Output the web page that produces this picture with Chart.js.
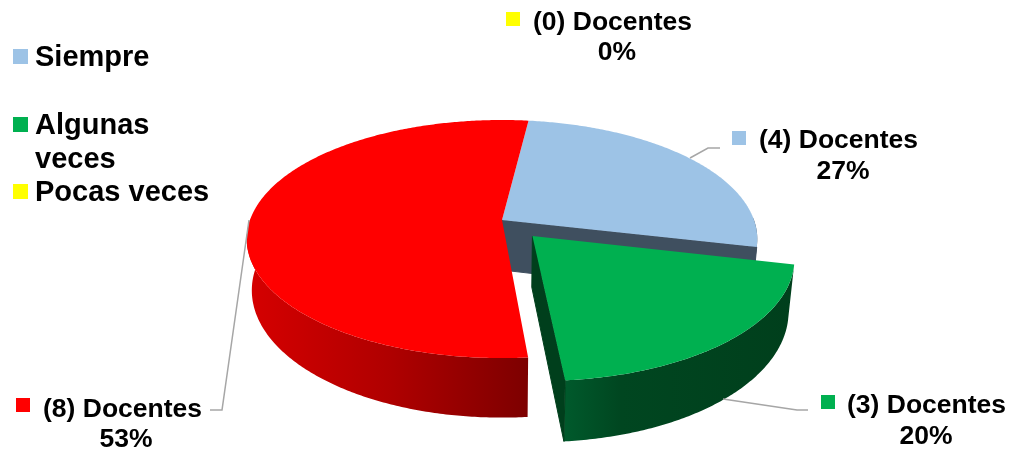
<!DOCTYPE html>
<html>
<head>
<meta charset="utf-8">
<title>Docentes</title>
<script src="https://cdn.jsdelivr.net/npm/chart.js@4/dist/chart.umd.js"></script>
<style>
  html, body { margin: 0; padding: 0; background: #fff; }
  #wrap { width: 1010px; height: 450px; }
</style>
</head>
<body>
<div id="wrap"><canvas id="pie" width="1010" height="450"></canvas></div>
<script>
// values, in slice order (clockwise)
var categories = ['Siempre', 'Algunas veces', 'Pocas veces', ''];
var docentes = [4, 3, 0, 8];
var percents = ['27%', '20%', '0%', '53%'];

var topColors = ['#9dc3e6', '#00b050', '#ffff00', '#ff0000'];
var wallStops = [
    [[0, '#3f4f5f'], [1, '#3f4f5f']],
    [[0, '#005a2c'], [0.25, '#004620'], [1, '#003f1c']],
    [[0, '#999900'], [1, '#999900']],
    [[0, '#d60000'], [0.5, '#b00000'], [1, '#7d0000']]
];

// fake 3d: how the flat disc gets laid back
var RX = 252, RY = 116, TILT = 0.16, DEPTH = 50, BOTTOM_SHRINK = 0.98;

var FONT = '"Liberation Sans", Arial, sans-serif';

function project(arc, angle, bottom) {
    var mid = (arc.startAngle + arc.endAngle) / 2;
    var off = arc.options.offset / arc.outerRadius;
    var u = off * Math.cos(mid) + Math.cos(angle);
    var v = off * Math.sin(mid) + Math.sin(angle);
    return disc(arc, u, v, bottom);
}

function disc(arc, u, v, bottom) {
    var s = 1 / (1 - TILT * v);
    var x = RX * u * s;
    var y = arc.y + RY * v * s;
    if (bottom) {
        y += DEPTH * s;
        x *= BOTTOM_SHRINK;
    }
    return { x: arc.x + x, y: y };
}

function apex(arc, bottom) {
    var mid = (arc.startAngle + arc.endAngle) / 2;
    var off = arc.options.offset / arc.outerRadius;
    return disc(arc, off * Math.cos(mid), off * Math.sin(mid), bottom);
}

function tracePoly(ctx, pts) {
    ctx.beginPath();
    pts.forEach(function(p, i) {
        if (i === 0) ctx.moveTo(p.x, p.y);
        else ctx.lineTo(p.x, p.y);
    });
    ctx.closePath();
}

function fillPoly(ctx, pts, style) {
    tracePoly(ctx, pts);
    ctx.fillStyle = style;
    ctx.fill();
}

function wallGradient(ctx, pts, stops) {
    var xs = pts.map(function(p) { return p.x; });
    var g = ctx.createLinearGradient(Math.min.apply(null, xs), 0, Math.max.apply(null, xs), 0);
    stops.forEach(function(s) { g.addColorStop(s[0], s[1]); });
    return g;
}

function radialFace(ctx, arc, angle, stops) {
    var pts = [apex(arc, false), project(arc, angle, false), project(arc, angle, true), apex(arc, true)];
    var color = stops[stops.length - 1][1];
    fillPoly(ctx, pts, color);
    // closes the hairline against the outer wall
    ctx.strokeStyle = color;
    ctx.lineWidth = 1;
    ctx.stroke();
}

function drawSlice(ctx, arc, index, arcs) {
    var stops = wallStops[index];
    var step = 0.01;

    // outer wall, front half only
    var upper = [], lower = [];
    for (var a = arc.startAngle; a <= arc.endAngle + step; a += step) {
        var at = Math.min(a, arc.endAngle);
        if (Math.sin(at) > -0.02) {
            upper.push(project(arc, at, false));
            lower.unshift(project(arc, at, true));
        }
    }
    if (upper.length) {
        var wall = upper.concat(lower);
        fillPoly(ctx, wall, wallGradient(ctx, wall, stops));
    }

    // flat side faces only show where a neighbour has been pulled away
    var next = arcs[(index + 1) % arcs.length];
    for (var n = 1; n < arcs.length && next.endAngle - next.startAngle < 1e-6; n++) {
        next = arcs[(index + 1 + n) % arcs.length];
    }
    var endOpen = arc.options.offset > 0 || next.options.offset > 0;
    if (endOpen && Math.sin(arc.endAngle + Math.PI / 2) > 0) {
        radialFace(ctx, arc, arc.endAngle, stops);
    }

    // top surface
    var top = [apex(arc, false)];
    for (var b = arc.startAngle; b < arc.endAngle; b += step) {
        top.push(project(arc, b, false));
    }
    top.push(project(arc, arc.endAngle, false));
    fillPoly(ctx, top, topColors[index]);
}

var pie3d = {
    id: 'pie3d',
    beforeDatasetDraw: function(chart, args) {
        var ctx = chart.ctx;
        var arcs = chart.getDatasetMeta(args.index).data;
        var order = arcs.map(function(a, i) { return i; }).filter(function(i) {
            return arcs[i].endAngle - arcs[i].startAngle > 1e-6;
        });
        // back to front
        order.sort(function(i, j) {
            var mi = (arcs[i].startAngle + arcs[i].endAngle) / 2;
            var mj = (arcs[j].startAngle + arcs[j].endAngle) / 2;
            return Math.sin(mi) - Math.sin(mj);
        });
        ctx.save();
        order.forEach(function(i) { drawSlice(ctx, arcs[i], i, arcs); });
        ctx.restore();
        return false;
    }
};

// [marker x, marker y, text left, text baseline, percent centre, percent baseline]
var labelSpots = [
    [732, 131, 759, 148, 843, 179],
    [821, 395, 847, 413, 926, 444],
    [506, 12, 533, 30, 617, 60],
    [16, 398, 43, 417, 126, 447]
];
var leaderLines = [
    [[690, 158], [708, 148], [720, 148]],
    [[723, 399], [797, 410], [808, 410]],
    [[249, 220], [222, 410], [210, 410]]
];
// [marker y, lines, baselines]
var legendSpots = [
    [49, ['Siempre'], [66]],
    [117, ['Algunas', 'veces'], [134, 168]],
    [184, ['Pocas veces'], [201]]
];

var labelsPlugin = {
    id: 'labelsPlugin',
    afterDraw: function(chart) {
        var ctx = chart.ctx;
        ctx.save();

        ctx.strokeStyle = '#a6a6a6';
        ctx.lineWidth = 1.5;
        leaderLines.forEach(function(line) {
            ctx.beginPath();
            line.forEach(function(p, i) {
                if (i === 0) ctx.moveTo(p[0], p[1]);
                else ctx.lineTo(p[0], p[1]);
            });
            ctx.stroke();
        });

        ctx.textBaseline = 'alphabetic';
        ctx.fillStyle = '#000';
        labelSpots.forEach(function(s, i) {
            ctx.fillStyle = topColors[i];
            ctx.fillRect(s[0], s[1], 14, 14);
            ctx.fillStyle = '#000';
            ctx.font = 'bold 26.5px ' + FONT;
            ctx.textAlign = 'left';
            ctx.fillText('(' + docentes[i] + ') Docentes', s[2], s[3]);
            ctx.textAlign = 'center';
            ctx.fillText(percents[i], s[4], s[5]);
        });

        ctx.textAlign = 'left';
        ctx.font = 'bold 29px ' + FONT;
        legendSpots.forEach(function(s, i) {
            ctx.fillStyle = topColors[i];
            ctx.fillRect(13, s[0], 15, 15);
            ctx.fillStyle = '#000';
            s[1].forEach(function(txt, j) {
                ctx.fillText(txt, 35, s[2][j]);
            });
        });
        ctx.restore();
    }
};

var ctx = document.getElementById('pie').getContext('2d');

var myChart = new Chart(ctx, {
    type: 'pie',
    data: {
        labels: categories,
        datasets: [{
            data: docentes,
            backgroundColor: topColors,
            borderWidth: 0,
            offset: [0, 36, 0, 0]
        }]
    },
    options: {
        responsive: false,
        animation: false,
        events: [],
        radius: 200,
        rotation: 7,
        layout: { padding: { right: 6, bottom: 10 } },
        plugins: {
            legend: { display: false },
            tooltip: { enabled: false }
        }
    },
    plugins: [pie3d, labelsPlugin]
});
</script>
</body>
</html>
